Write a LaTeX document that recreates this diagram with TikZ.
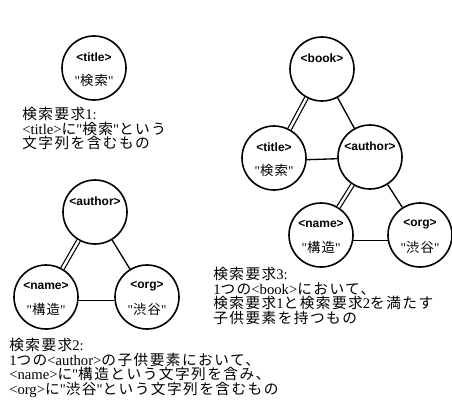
\documentclass[tikz,border=0pt]{standalone}
\usepackage{fontspec}
\setmainfont{Liberation Serif}[Ligatures=TeXOff]
\newfontfamily\tagfont{Liberation Sans}
\newfontfamily\jp{Noto Sans CJK JP}[LetterSpace=10]
\usetikzlibrary{positioning}

\begin{document}
\begin{tikzpicture}[x=0.75pt,y=-0.75pt,
  elem/.style={draw,circle,line width=1.2pt,minimum size=48pt,inner sep=0pt},
  tagl/.style={font=\tagfont\bfseries\fontsize{9}{10}\selectfont,inner sep=0pt},
  vall/.style={font=\fontsize{10}{11}\selectfont,inner sep=0pt},
  req/.style={anchor=north west,align=left,inner sep=0pt,font=\fontsize{11}{11}\selectfont},
  link/.style={line width=1pt},
  dlink/.style={double,double distance=1.8pt,line width=0.9pt}]
  \useasboundingbox (0,0) rectangle (452,403);

  % request 1
  \node[elem] (t1) at (94,68) {};
  \node[tagl] (t1tag) at ([yshift=8pt]t1.center) {<title>};
  \node[vall] (t1val) at ([yshift=-9.5pt]t1.center) {"{\jp 検索}"};
  \node[req] (req1) at (22,107) {{\jp 検索要求}1:\\<title>{\jp に}"{\jp 検索}"{\jp という}\\{\jp 文字列を含むもの}};

  % request 2
  \node[elem] (au) at (95,212) {};
  \node[tagl] (autag) at ([yshift=8pt]au.center) {<author>};
  \node[elem] (nm) at (46,297) {};
  \node[tagl] (nmtag) at ([yshift=8pt]nm.center) {<name>};
  \node[vall] (nmval) at ([yshift=-9.5pt]nm.center) {"{\jp 構造}"};
  \node[elem] (og) at (147,297) {};
  \node[tagl] (ogtag) at ([yshift=8pt]og.center) {<org>};
  \node[vall] (ogval) at ([yshift=-9.5pt]og.center) {"{\jp 渋谷}"};
  \draw[dlink] (au) -- (nm);
  \draw[link] (au) -- (og);
  \draw[link] (nm.-6) -- (og.-174);
  \node[req] (req2) at (9,338) {{\jp 検索要求}2:\\1{\jp つの}<author>{\jp の子供要素において、}\\<name>{\jp に}"{\jp 構造という文字列を含み、}\\<org>{\jp に}"{\jp 渋谷}"{\jp という文字列を含むもの}};

  % request 3
  \node[elem] (bk) at (322,69) {};
  \node[tagl] (bktag) at ([yshift=8pt]bk.center) {<book>};
  \node[elem] (t2) at (274,158) {};
  \node[tagl] (t2tag) at ([yshift=8pt]t2.center) {<title>};
  \node[vall] (t2val) at ([yshift=-9.5pt]t2.center) {"{\jp 検索}"};
  \node[elem] (a2) at (370,157) {};
  \node[tagl] (a2tag) at ([yshift=8pt]a2.center) {<author>};
  \node[elem] (n2) at (321,235) {};
  \node[tagl] (n2tag) at ([yshift=8pt]n2.center) {<name>};
  \node[vall] (n2val) at ([yshift=-9.5pt]n2.center) {"{\jp 構造}"};
  \node[elem] (o2) at (420,235) {};
  \node[tagl] (o2tag) at ([yshift=8pt]o2.center) {<org>};
  \node[vall] (o2val) at ([yshift=-9.5pt]o2.center) {"{\jp 渋谷}"};
  \draw[dlink] (bk) -- (t2);
  \draw[link] (bk) -- (a2);
  \draw[link] (t2.-3) -- (a2.-177);
  \draw[dlink] (a2) -- (n2);
  \draw[link] (a2) -- (o2);
  \draw[link] (n2.-10) -- (o2.-170);
  \node[req] (req3) at (213,267) {{\jp 検索要求}3:\\1{\jp つの}<book>{\jp において、}\\{\jp 検索要求}1{\jp と検索要求}2{\jp を満たす}\\{\jp 子供要素を持つもの}};
\end{tikzpicture}
\end{document}
